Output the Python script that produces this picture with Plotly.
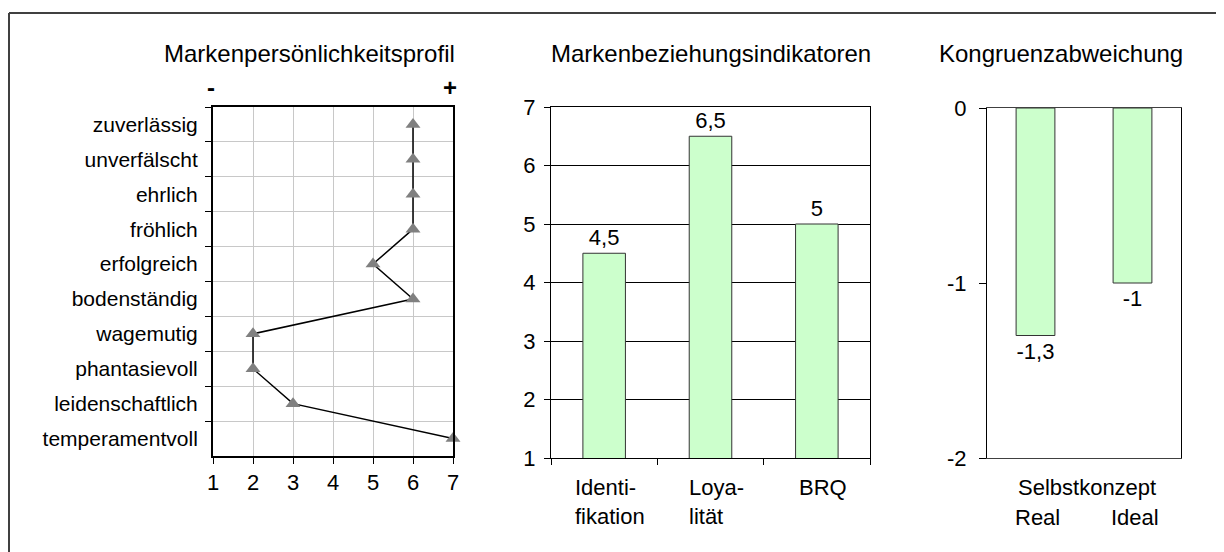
import plotly.graph_objects as go

W, H = 1224, 552
OFF = 8  # the page places the figure 8px from the window's top-left corner

# ---- data ----
traits = ["zuverlässig", "unverfälscht", "ehrlich", "fröhlich", "erfolgreich",
          "bodenständig", "wagemutig", "phantasievoll", "leidenschaftlich", "temperamentvoll"]
trait_values = [6, 6, 6, 6, 5, 6, 2, 2, 3, 7]

indicator_cats = ["Identifikation", "Loyalität", "BRQ"]
indicator_labels = ["Identi-<br>fikation", "Loya-<br>lität", "BRQ"]
indicator_values = [4.5, 6.5, 5]

kongruenz_cats = ["Real", "Ideal"]
kongruenz_values = [-1.3, -1.0]
kongruenz_ticks = [0, -1, -2]

titles = ["Markenpersönlichkeitsprofil", "Markenbeziehungsindikatoren", "Kongruenzabweichung"]

FONT = "Liberation Sans, Arial, sans-serif"
FS = 22
TFS = 24
GREEN = "#CCFFCC"
BAR_LINE = "#333333"


def px(x):
    return (x - OFF) / W


def py(y):
    return 1 - (y - OFF) / H


def fmt(v):
    return ("%g" % v).replace(".", ",")


fig = go.Figure()

# Panel 1: profile
fig.add_trace(go.Scatter(
    x=trait_values, y=traits, mode="lines+markers",
    line=dict(color="black", width=1.5),
    marker=dict(symbol="triangle-up", size=13, color="#808080"),
    cliponaxis=False, xaxis="x", yaxis="y", showlegend=False,
))

# Panel 2: indicators
fig.add_trace(go.Bar(
    x=indicator_cats, y=indicator_values,
    marker=dict(color=GREEN, line=dict(color=BAR_LINE, width=1)),
    text=[fmt(v) for v in indicator_values],
    textposition="outside", textfont=dict(family=FONT, size=FS, color="black"),
    cliponaxis=False, xaxis="x2", yaxis="y2", showlegend=False,
))

# Panel 3: congruence deviation
fig.add_trace(go.Bar(
    x=kongruenz_cats, y=kongruenz_values,
    marker=dict(color=GREEN, line=dict(color=BAR_LINE, width=1)),
    text=[fmt(v) for v in kongruenz_values],
    textposition="outside", textfont=dict(family=FONT, size=FS, color="black"),
    cliponaxis=False, xaxis="x3", yaxis="y3", showlegend=False,
))

tickfont = dict(family=FONT, size=FS, color="black")

layout = dict(
    template="none",
    width=W, height=H,
    margin=dict(l=0, r=0, t=0, b=0, pad=0, autoexpand=False),
    paper_bgcolor="white", plot_bgcolor="white",
    font=dict(family=FONT, size=FS, color="black"),
    separators=",.",
    bargap=0.6,
    # panel 1
    xaxis=dict(domain=[px(213), px(453)], range=[1, 7], dtick=1, tick0=1,
               showgrid=True, gridcolor="#C8C8C8", gridwidth=1,
               showline=True, linecolor="black", linewidth=2, mirror=True,
               ticks="outside", ticklen=6, tickcolor="black", tickfont=tickfont,
               zeroline=False, anchor="y", automargin=False),
    yaxis=dict(domain=[py(456), py(107)], type="category",
               categoryorder="array", categoryarray=traits, range=[9.5, -0.5],
               tickson="boundaries", showgrid=True, gridcolor="#C8C8C8", gridwidth=1,
               showline=True, linecolor="black", linewidth=2, mirror=True,
               ticks="outside", ticklen=6, tickcolor="black",
               tickfont=dict(family=FONT, size=21, color="black"),
               ticklabelstandoff=9, anchor="x", automargin=False),
    # panel 2
    xaxis2=dict(domain=[px(551), px(870)], type="category", tickson="boundaries",
                showticklabels=False, ticks="outside", ticklen=6, tickcolor="black",
                showline=True, linecolor="black", linewidth=1, mirror=True,
                showgrid=False, anchor="y2", automargin=False),
    yaxis2=dict(domain=[py(458), py(107)], range=[1, 7], dtick=1,
                showgrid=True, gridcolor="black", gridwidth=1,
                showline=True, linecolor="black", linewidth=1, mirror=True,
                ticks="outside", ticklen=6, tickcolor="black", tickfont=tickfont,
                ticklabelstandoff=4, zeroline=False, anchor="x2", automargin=False),
    # panel 3
    xaxis3=dict(domain=[px(987), px(1181)], type="category",
                showticklabels=False, ticks="",
                showline=True, linecolor="#404040", linewidth=1, mirror=True,
                showgrid=False, anchor="y3", automargin=False),
    yaxis3=dict(domain=[py(458), py(108)], range=[-2, 0],
                tickvals=kongruenz_ticks, ticktext=[fmt(t) for t in kongruenz_ticks],
                showgrid=False,
                showline=True, linecolor="black", linewidth=1, mirror=True,
                ticks="outside", ticklen=7, tickcolor="black", tickfont=tickfont,
                ticklabelstandoff=8, zeroline=False, anchor="x3", automargin=False),
)
fig.update_layout(**layout)

annotations = []
# panel titles
for t, cx in zip(titles, [309, 711, 1061]):
    annotations.append(dict(text=t, x=px(cx), y=py(53), xref="paper", yref="paper",
                            xanchor="center", yanchor="middle", showarrow=False,
                            font=dict(family=FONT, size=TFS, color="black")))
# minus / plus
annotations.append(dict(text="<b>-</b>", x=px(211), y=py(88), xref="paper", yref="paper",
                        xanchor="center", yanchor="middle", showarrow=False,
                        font=dict(family=FONT, size=24, color="black")))
annotations.append(dict(text="<b>+</b>", x=px(450), y=py(88), xref="paper", yref="paper",
                        xanchor="center", yanchor="middle", showarrow=False,
                        font=dict(family=FONT, size=24, color="black")))
# panel 2 category labels (left-aligned lines)
for cat, lab in zip(indicator_cats, indicator_labels):
    annotations.append(dict(text=lab, x=cat, xref="x2", y=py(473), yref="paper",
                            xanchor="center", yanchor="top", align="left", xshift=6,
                            showarrow=False, font=dict(family=FONT, size=FS, color="black")))
# panel 3 labels
annotations.append(dict(text="Selbstkonzept", x=px(1087), y=py(487), xref="paper", yref="paper",
                        xanchor="center", yanchor="middle", showarrow=False,
                        font=dict(family=FONT, size=FS, color="black")))
for cat in kongruenz_cats:
    annotations.append(dict(text=cat, x=cat, xref="x3", y=py(517), yref="paper",
                            xanchor="center", yanchor="middle", xshift=2, showarrow=False,
                            font=dict(family=FONT, size=FS, color="black")))

fig.update_layout(annotations=annotations)

# outer frame (left and top edges visible)
fig.add_shape(type="line", xref="paper", yref="paper", x0=px(9), x1=px(9), y0=0, y1=py(13),
              line=dict(color="#404040", width=2))
fig.add_shape(type="line", xref="paper", yref="paper", x0=px(9), x1=1, y0=py(13), y1=py(13),
              line=dict(color="#404040", width=2))

fig.write_html("out.html")
